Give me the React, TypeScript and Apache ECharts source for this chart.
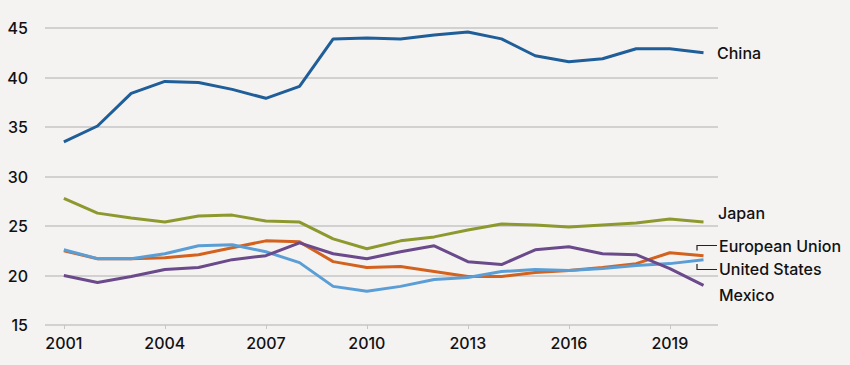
import React, { useEffect, useRef } from "react";
import * as echarts from "echarts";

const years = [2001, 2002, 2003, 2004, 2005, 2006, 2007, 2008, 2009, 2010, 2011, 2012, 2013, 2014, 2015, 2016, 2017, 2018, 2019, 2020];
const china = [33.5, 35.1, 38.4, 39.6, 39.5, 38.8, 37.9, 39.1, 43.9, 44.0, 43.9, 44.3, 44.6, 43.9, 42.2, 41.6, 41.9, 42.9, 42.9, 42.5];
const japan = [27.8, 26.3, 25.8, 25.4, 26.0, 26.1, 25.5, 25.4, 23.7, 22.7, 23.5, 23.9, 24.6, 25.2, 25.1, 24.9, 25.1, 25.3, 25.7, 25.4];
const eu = [22.5, 21.7, 21.7, 21.8, 22.1, 22.8, 23.5, 23.4, 21.4, 20.8, 20.9, 20.4, 19.9, 19.9, 20.3, 20.5, 20.8, 21.2, 22.3, 22.0];
const us = [22.6, 21.7, 21.7, 22.2, 23.0, 23.1, 22.4, 21.3, 18.9, 18.4, 18.9, 19.6, 19.8, 20.4, 20.6, 20.5, 20.7, 21.0, 21.2, 21.6];
const mexico = [20.0, 19.3, 19.9, 20.6, 20.8, 21.6, 22.0, 23.3, 22.2, 21.7, 22.4, 23.0, 21.4, 21.1, 22.6, 22.9, 22.2, 22.1, 20.7, 19.0];
const xTicks = [2001, 2004, 2007, 2010, 2013, 2016, 2019];

const seriesDefs = [
  { name: "China", data: china, color: "#1f5e98" },
  { name: "Japan", data: japan, color: "#8d992f" },
  { name: "European Union", data: eu, color: "#d2621e" },
  { name: "United States", data: us, color: "#5b9ed6" },
  { name: "Mexico", data: mexico, color: "#6a4a8b" },
];

const FONT = "Inter";

export default function App() {
  const ref = useRef<HTMLDivElement>(null);
  useEffect(() => {
    if (!ref.current) return;
    const chart = echarts.init(ref.current, null, { renderer: "svg" });
    const labelStyle = (text: string, x: number, y: number) => ({
      type: "text",
      x,
      y,
      style: { text, fill: "#111", font: `500 16px ${FONT}`, textVerticalAlign: "middle", textAlign: "left" },
    });
    const lineStyle = { stroke: "#222", lineWidth: 1.2 };
    chart.setOption({
      animation: false,
      backgroundColor: "#f4f3f1",
      grid: { left: 45, right: 132, top: 28, bottom: 40, containLabel: false },
      xAxis: {
        type: "value",
        min: 2000.44,
        max: 2020.43,
        axisLine: { show: false },
        splitLine: { show: false },
        axisTick: { show: true, customValues: xTicks, length: 4, lineStyle: { color: "#c6c6c6", width: 1 } },
        axisLabel: {
          customValues: xTicks,
          formatter: (v: number) => String(v),
          color: "#111",
          fontFamily: FONT,
          fontWeight: 500,
          fontSize: 16,
          margin: 10,
        },
      },
      yAxis: {
        type: "value",
        min: 15,
        max: 45,
        interval: 5,
        axisLine: { show: false },
        axisTick: { show: false },
        splitLine: { lineStyle: { color: "#c6c6c6", width: 1.5 } },
        axisLabel: { color: "#111", fontFamily: FONT, fontWeight: 500, fontSize: 16, margin: 17 },
      },
      series: seriesDefs.map((s) => ({
        name: s.name,
        type: "line",
        data: years.map((y, i) => [y, s.data[i]]),
        showSymbol: false,
        symbol: "none",
        lineStyle: { color: s.color, width: 3 },
        itemStyle: { color: s.color },
      })),
      graphic: [
        labelStyle("China", 717, 53),
        labelStyle("Japan", 718, 213),
        labelStyle("European Union", 719, 246),
        labelStyle("United States", 719, 269),
        labelStyle("Mexico", 719, 295),
        { type: "polyline", shape: { points: [[697, 250.5], [697, 245.5], [717, 245.5]] }, style: { ...lineStyle, fill: null } },
        { type: "polyline", shape: { points: [[697, 264], [697, 269.5], [717, 269.5]] }, style: { ...lineStyle, fill: null } },
      ],
    });
    return () => chart.dispose();
  }, []);
  return <div ref={ref} style={{ width: 850, height: 365, position: "absolute", left: 0, top: 0 }} />;
}
